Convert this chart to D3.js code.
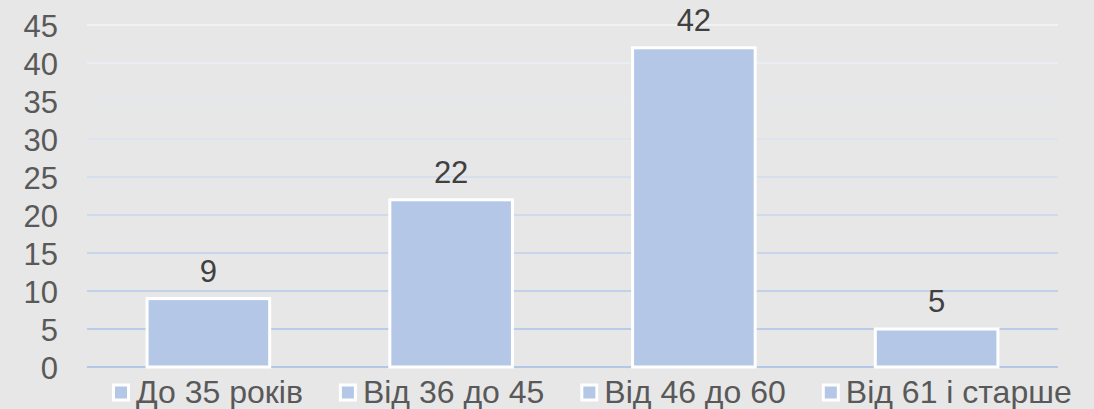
<!DOCTYPE html>
<html>
<head>
<meta charset="utf-8">
<script src="https://cdn.jsdelivr.net/npm/d3@7"></script>
<style>
  body { margin:0; background:#e7e7e7; }
  svg { display:block; font-family:"Liberation Sans", Arial, sans-serif; }
</style>
</head>
<body>
<svg id="chart" width="1094" height="409"></svg>
<script>
// дані
var categories = ["До 35 років", "Від 36 до 45", "Від 46 до 60", "Від 61 і старше"];
var values = [9, 22, 42, 5];
var yTicks = [0, 5, 10, 15, 20, 25, 30, 35, 40, 45];

var W = 1094, H = 409;
var margin = {left:87, right:36, top:25, bottom:42};

var svg = d3.select("#chart");
svg.append("rect").attr("width",W).attr("height",H).attr("fill","#e7e7e7");

var x = d3.scaleBand()
  .domain(categories)
  .range([margin.left, W - margin.right])
  .paddingInner(0.495).paddingOuter(0.2475);

var y = d3.scaleLinear()
  .domain([0,45])
  .range([H - margin.bottom, margin.top]);

// сітка - колір світлішає догори
var gridColor = d3.interpolateRgb("#b4c7e7", "#f1f2f4");
svg.append("g").selectAll("line")
  .data(yTicks)
  .enter().append("line")
  .attr("x1", margin.left)
  .attr("x2", W - margin.right)
  .attr("y1", function(d){ return y(d); })
  .attr("y2", function(d){ return y(d); })
  .attr("stroke", function(d){ return gridColor(d/45); })
  .attr("stroke-width", 2);

// вісь Y
var yAxis = d3.axisLeft(y).tickValues(yTicks).tickSize(0).tickPadding(0);
var gy = svg.append("g")
  .attr("transform","translate(58,0)")
  .call(yAxis);
gy.select(".domain").remove();
gy.selectAll("text")
  .attr("fill","#595959")
  .attr("font-size","31px")
  .attr("font-family","Liberation Sans, Arial, sans-serif")
  .attr("dy","0.36em");

// стовпці
svg.append("g").selectAll("rect")
  .data(values)
  .enter().append("rect")
  .attr("x", function(d,i){ return x(categories[i]); })
  .attr("width", x.bandwidth())
  .attr("y", function(d){ return y(d); })
  .attr("height", function(d){ return y(0) - y(d); })
  .attr("fill","#b4c7e7")
  .attr("stroke","#ffffff")
  .attr("stroke-width",3);

// підписи значень
svg.append("g").selectAll("text")
  .data(values)
  .enter().append("text")
  .attr("x", function(d,i){ return x(categories[i]) + x.bandwidth()/2; })
  .attr("y", function(d){ return y(d) - 17; })
  .attr("text-anchor","middle")
  .attr("fill","#404040")
  .attr("font-size","31px")
  .text(function(d){ return d; });

// легенда
var legend = svg.append("g");
var lx = 112, gap = 36;
categories.forEach(function(c){
  var item = legend.append("g");
  item.append("rect")
    .attr("x", lx + 1.5).attr("y", 385)
    .attr("width", 15).attr("height", 15)
    .attr("fill","#b4c7e7")
    .attr("stroke","#ffffff")
    .attr("stroke-width",3);
  var t = item.append("text")
    .attr("x", lx + 24).attr("y", 403)
    .attr("fill","#595959")
    .attr("font-size","32px")
    .text(c);
  lx = lx + 24 + t.node().getComputedTextLength() + gap;
});
</script>
</body>
</html>
